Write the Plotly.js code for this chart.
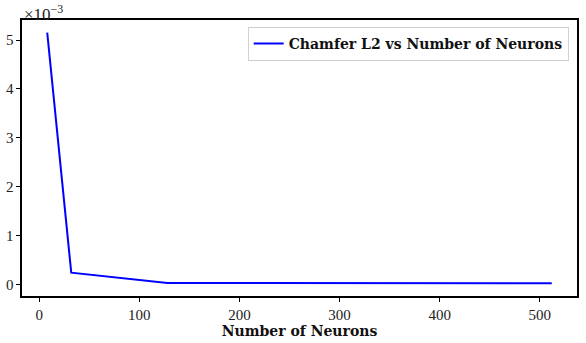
<!DOCTYPE html>
<html><head><meta charset="utf-8">
<script src="https://cdn.plot.ly/plotly-3.0.1.min.js"></script>
<style>body{margin:0;padding:0;}#chart{width:586px;height:343px;}</style>
</head><body><div id="chart"></div>
<script>
const neurons = [8, 32, 128, 512];
const chamferL2 = [5.15e-3, 0.24e-3, 0.03e-3, 0.025e-3];
const seriesName = 'Chamfer L2 vs Number of Neurons';
const xTicks = [0, 100, 200, 300, 400, 500];
const yTickVals = [0, 1e-3, 2e-3, 3e-3, 4e-3, 5e-3];
const yTickText = ['0', '1', '2', '3', '4', '5'];
const xLabel = 'Number of Neurons';

const font = "'Liberation Serif', 'DejaVu Serif', serif";
const boldFont = "'DejaVu Serif', serif";
Plotly.newPlot('chart', [{
  x: neurons, y: chamferL2, type: 'scatter', mode: 'lines',
  name: seriesName, line: {color: '#0000ff', width: 2}
}], {
  width: 586, height: 343,
  margin: {l: 22, r: 9, t: 20, b: 47},
  paper_bgcolor: '#fff', plot_bgcolor: '#fff',
  font: {family: font, size: 15, color: '#222'},
  showlegend: true,
  legend: {x: 0.985, y: 0.975, xanchor: 'right', yanchor: 'top',
    bordercolor: '#d0d0d0', borderwidth: 1, bgcolor: 'rgba(255,255,255,0.8)',
    font: {family: boldFont, size: 14, color: '#111', weight: 'bold'}},
  xaxis: {range: [-17.2, 537.2], tickvals: xTicks, ticks: 'outside', ticklen: 4,
    tickcolor: '#000', showgrid: false, zeroline: false, showline: true,
    linecolor: '#000', linewidth: 1.6, mirror: true,
    tickfont: {family: font, size: 15, color: '#222'},
    title: {text: '<b>' + xLabel + '</b>', font: {family: boldFont, size: 14, color: '#111'}, standoff: 0}},
  yaxis: {range: [-0.237e-3, 5.41e-3], tickvals: yTickVals, ticktext: yTickText,
    ticks: 'outside', ticklen: 4, tickcolor: '#000', showgrid: false, zeroline: false,
    showline: true, linecolor: '#000', linewidth: 1.6, mirror: true,
    tickfont: {family: font, size: 15, color: '#222'}},
  annotations: [{xref: 'paper', yref: 'paper', x: 0, y: 1, xanchor: 'left', yanchor: 'bottom',
    text: '×10<sup>−3</sup>', showarrow: false, font: {family: font, size: 17, color: '#222'}, yshift: -6}]
}, {displayModeBar: false, staticPlot: true});
</script></body></html>
